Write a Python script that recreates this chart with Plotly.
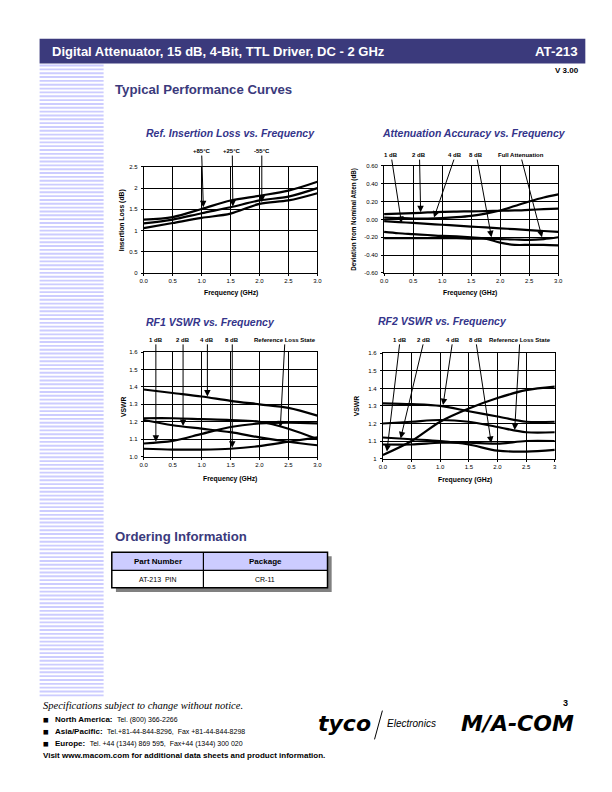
import plotly.graph_objects as go

# page is 612x792; browser body has an 8px margin, so the figure is drawn 8px in
OFF = 8
W, H = 612 - OFF, 792 - OFF
def PX(x): return (x - OFF) / W
def PY(y): return 1 - (y - OFF) / H

SANS = "Liberation Sans, Arial, sans-serif"
SERIF = "Liberation Serif, Times New Roman, serif"
NAVY = "#3b3a7c"
TNAVY = "#34348a"
LAV = "#ccccff"

# ---------------- data ----------------
freq1 = [0.0, 0.5, 1.0, 1.5, 2.0, 2.5, 3.0]
il_p85 = [1.26, 1.32, 1.51, 1.71, 1.82, 1.94, 2.15]
il_p25 = [1.17, 1.26, 1.41, 1.55, 1.71, 1.80, 2.00]
il_m55 = [1.06, 1.18, 1.30, 1.40, 1.63, 1.71, 1.88]
il_labels = ["+85°C", "+25°C", "-55°C"]

freq2 = [0.0, 0.25, 0.5, 0.75, 1.0, 1.25, 1.5, 1.75, 2.0, 2.25, 2.5, 2.75, 3.0]
acc_1db = [-0.02, -0.03, -0.04, -0.05, -0.06, -0.07, -0.08, -0.09, -0.10, -0.11, -0.12, -0.13, -0.14]
acc_2db = [0.06, 0.065, 0.07, 0.078, 0.085, 0.088, 0.09, 0.093, 0.097, 0.10, 0.107, 0.114, 0.12]
acc_4db = [0.02, 0.015, 0.01, 0.01, 0.015, 0.025, 0.04, 0.065, 0.10, 0.15, 0.20, 0.245, 0.28]
acc_8db = [-0.14, -0.155, -0.165, -0.175, -0.185, -0.19, -0.20, -0.215, -0.26, -0.285, -0.285, -0.285, -0.29]
acc_full = [-0.21, -0.21, -0.21, -0.21, -0.21, -0.21, -0.215, -0.215, -0.22, -0.225, -0.23, -0.22, -0.20]
acc_labels = ["1 dB", "2 dB", "4 dB", "8 dB", "Full Attenuation"]

freq3 = [0.0, 0.5, 1.0, 1.5, 2.0, 2.5, 3.0]
rf1_1db = [1.075, 1.09, 1.13, 1.17, 1.19, 1.195, 1.19]
rf1_2db = [1.21, 1.18, 1.16, 1.14, 1.11, 1.085, 1.065]
rf1_4db = [1.385, 1.365, 1.345, 1.32, 1.30, 1.28, 1.235]
rf1_8db = [1.045, 1.04, 1.04, 1.045, 1.06, 1.085, 1.11]
rf1_ref = [1.22, 1.22, 1.215, 1.21, 1.20, 1.16, 1.10]

freq4 = [0.0, 0.5, 1.0, 1.5, 2.0, 2.5, 3.0]
rf2_1db = [1.02, 1.10, 1.21, 1.285, 1.345, 1.39, 1.41]
rf2_2db = [1.12, 1.11, 1.10, 1.08, 1.045, 1.04, 1.05]
rf2_4db = [1.315, 1.31, 1.30, 1.27, 1.24, 1.21, 1.21]
rf2_8db = [1.08, 1.08, 1.09, 1.09, 1.085, 1.10, 1.10]
rf2_ref = [1.20, 1.21, 1.22, 1.21, 1.18, 1.15, 1.15]
vswr_labels = ["1 dB", "2 dB", "4 dB", "8 dB", "Reference Loss State"]

x_ticks = [0, 0.5, 1.0, 1.5, 2.0, 2.5, 3.0]
x_text = ["0.0", "0.5", "1.0", "1.5", "2.0", "2.5", "3.0"]
x_text4 = ["0.0", "0.5", "1.0", "1.5", "2.0", "2.5", "3"]
il_ticks = [0, 0.5, 1, 1.5, 2, 2.5]
il_text = ["0", "0.5", "1", "1.5", "2", "2.5"]
acc_ticks = [-0.6, -0.4, -0.2, 0.0, 0.2, 0.4, 0.6]
acc_text = ["-0.60", "-0.40", "-0.20", "0.00", "0.20", "0.40", "0.60"]
vswr_ticks = [1.0, 1.1, 1.2, 1.3, 1.4, 1.5, 1.6]
vswr_text3 = ["1.0", "1.1", "1.2", "1.3", "1.4", "1.5", "1.6"]
vswr_text4 = ["1", "1.1", "1.2", "1.3", "1.4", "1.5", "1.6"]

# label (text) positions and arrow tips, in data units
il_lab = [(1.0, 2.87), (1.53, 2.87), (2.04, 2.87)]
il_tip = [(1.03, 1.55), (1.54, 1.57), (2.04, 1.67)]
acc_lab = [(0.12, 0.72), (0.61, 0.72), (1.23, 0.72), (1.59, 0.72), (2.35, 0.72)]
acc_tip = [(0.30, -0.04), (0.63, 0.08), (0.86, 0.02), (1.85, -0.20), (2.72, -0.20)]
rf1_lab = [(0.21, 1.67), (0.68, 1.67), (1.10, 1.67), (1.53, 1.67), (2.44, 1.67)]
rf1_tip = [(0.21, 1.085), (0.68, 1.175), (1.10, 1.345), (1.53, 1.05), (2.36, 1.168)]
rf2_lab = [(0.30, 1.677), (0.72, 1.677), (1.22, 1.677), (1.62, 1.677), (2.39, 1.677)]
rf2_tip = [(0.07, 1.04), (0.31, 1.115), (1.05, 1.305), (1.89, 1.089), (2.30, 1.163)]

# ---------------- figure ----------------
fig = go.Figure()

charts = [
    dict(ax="", xs=freq1, series=[il_p85, il_p25, il_m55], dom_x=(141.7, 318), dom_y=(165, 272.3),
         yr=[0, 2.5], yt=il_ticks, ytt=il_text, xtt=x_text, labels=il_labels, lab=il_lab, tip=il_tip),
    dict(ax="2", xs=freq2, series=[acc_1db, acc_2db, acc_4db, acc_8db, acc_full], dom_x=(385.7, 562.5), dom_y=(164, 272),
         yr=[-0.6, 0.6], yt=acc_ticks, ytt=acc_text, xtt=x_text, labels=acc_labels, lab=acc_lab, tip=acc_tip),
    dict(ax="3", xs=freq3, series=[rf1_1db, rf1_2db, rf1_4db, rf1_8db, rf1_ref], dom_x=(141.7, 318), dom_y=(351.7, 457),
         yr=[1.0, 1.6], yt=vswr_ticks, ytt=vswr_text3, xtt=x_text, labels=vswr_labels, lab=rf1_lab, tip=rf1_tip),
    dict(ax="4", xs=freq4, series=[rf2_1db, rf2_2db, rf2_4db, rf2_8db, rf2_ref], dom_x=(384.5, 559), dom_y=(353, 459),
         yr=[1.0, 1.6], yt=vswr_ticks, ytt=vswr_text4, xtt=x_text4, labels=vswr_labels, lab=rf2_lab, tip=rf2_tip),
]

layout = dict(width=W, height=H, margin=dict(l=0, r=0, t=0, b=0),
              paper_bgcolor="white", plot_bgcolor="white", showlegend=False)
annotations = []
shapes = []

for c in charts:
    a = c["ax"]
    xa, ya = "x" + a, "y" + a
    for ys in c["series"]:
        fig.add_trace(go.Scatter(x=c["xs"], y=ys, mode="lines", xaxis=xa, yaxis=ya,
                                 line=dict(color="black", width=2.2, shape="spline", smoothing=0.9),
                                 hoverinfo="skip"))
    common = dict(showgrid=True, gridcolor="black", gridwidth=1, showline=True, linecolor="black",
                  linewidth=1, mirror=True, ticks="outside", ticklen=2, tickcolor="black", zeroline=False,
                  tickfont=dict(size=6, family=SANS, color="black"))
    layout["xaxis" + a] = dict(domain=[PX(c["dom_x"][0]), PX(c["dom_x"][1])], range=[0, 3],
                               tickvals=x_ticks, ticktext=c["xtt"], anchor=ya, **common)
    layout["yaxis" + a] = dict(domain=[PY(c["dom_y"][1]), PY(c["dom_y"][0])], range=c["yr"],
                               tickvals=c["yt"], ticktext=c["ytt"], anchor=xa, ticklabelstandoff=2, **common)
    for lbl, (lx, ly), (tx, ty) in zip(c["labels"], c["lab"], c["tip"]):
        annotations.append(dict(x=tx, y=ty, xref=xa, yref=ya, ax=lx, ay=ly, axref=xa, ayref=ya,
                                text="<b>%s</b>" % lbl, showarrow=True, arrowhead=2, arrowsize=1.3,
                                arrowwidth=1, arrowcolor="black",
                                font=dict(size=6, family=SANS, color="black")))

def text(x, y, s, size, color="black", xanchor="left", bold=False, italic=False, family=SANS, angle=0):
    if bold:
        s = "<b>%s</b>" % s
    if italic:
        s = "<i>%s</i>" % s
    annotations.append(dict(x=PX(x), y=PY(y), xref="paper", yref="paper", text=s, showarrow=False,
                            xanchor=xanchor, yanchor="middle", textangle=angle,
                            font=dict(size=size, color=color, family=family)))

def rect(x0, y0, x1, y1, fill=None, line=None, lw=0, layer="below"):
    shapes.append(dict(type="rect", xref="paper", yref="paper", x0=PX(x0), x1=PX(x1), y0=PY(y1), y1=PY(y0),
                       fillcolor=fill if fill else "rgba(0,0,0,0)",
                       line=dict(color=line if line else "rgba(0,0,0,0)", width=lw), layer=layer))

# header bar
rect(36, 36, 590, 61, fill=NAVY)
text(47, 48.5, "Digital Attenuator, 15 dB, 4-Bit, TTL Driver, DC - 2 GHz", 13, "white", bold=True)
text(585, 48.5, "AT-213", 13.3, "white", xanchor="right", bold=True)
text(586, 68, "V 3.00", 8, "black", xanchor="right", bold=True)
text(111, 87, "Typical Performance Curves", 13.2, NAVY, bold=True)

# side stripes
y0 = 62.0
while y0 < 697:
    rect(36, y0, 101, y0 + 1.9, fill=LAV)
    y0 += 3.87

# chart titles
text(229.5, 131, "Ref. Insertion Loss vs. Frequency", 10.5, TNAVY, xanchor="center", bold=True, italic=True)
text(477, 131, "Attenuation Accuracy vs. Frequency", 10.5, TNAVY, xanchor="center", bold=True, italic=True)
text(141.5, 321.5, "RF1 VSWR vs. Frequency", 10.5, TNAVY, bold=True, italic=True)
text(378, 320.5, "RF2 VSWR vs. Frequency", 10.5, TNAVY, bold=True, italic=True)

# axis titles
text(230, 292, "Frequency (GHz)", 6.8, xanchor="center", bold=True)
text(120, 218.5, "Insertion Loss (dB)", 6.8, xanchor="center", bold=True, angle=-90)
text(473, 292, "Frequency (GHz)", 6.8, xanchor="center", bold=True)
text(355.5, 218, "Deviation from Nominal Atten (dB)", 6.3, xanchor="center", bold=True, angle=-90)
text(229, 479.5, "Frequency (GHz)", 6.8, xanchor="center", bold=True)
text(121.7, 407, "VSWR", 6.8, xanchor="center", bold=True, angle=-90)
text(468, 480.5, "Frequency (GHz)", 6.8, xanchor="center", bold=True)
text(358.5, 406, "VSWR", 6.8, xanchor="center", bold=True, angle=-90)

# ordering information
text(111, 537.5, "Ordering Information", 13.2, NAVY, bold=True)
rect(113.5, 557.5, 332.5, 593.5, fill="#808080")
rect(109.3, 553.3, 328.3, 571.7, fill=LAV)
rect(109.3, 571.7, 328.3, 589.3, fill="white")
rect(109.3, 553.3, 328.3, 589.3, line="black", lw=1.5, layer="above")
shapes.append(dict(type="line", xref="paper", yref="paper", x0=PX(202.3), x1=PX(202.3), y0=PY(553.3), y1=PY(589.3),
                   line=dict(color="black", width=1.2)))
shapes.append(dict(type="line", xref="paper", yref="paper", x0=PX(109.3), x1=PX(328.3), y0=PY(571.7), y1=PY(571.7),
                   line=dict(color="black", width=1.2)))
text(156, 562.5, "Part Number", 8, xanchor="center", bold=True)
text(265, 562.5, "Package", 8, xanchor="center", bold=True)
text(156, 580.5, "AT-213  PIN", 7, xanchor="center")
text(265, 580.5, "CR-11", 7, xanchor="center")

# footer
text(37, 708, "Specifications subject to change without notice.", 10.5, family=SERIF, italic=True)
footer_rows = [("North America:", "Tel. (800) 366-2266", 722),
               ("Asia/Pacific:", "Tel.+81-44-844-8296,  Fax +81-44-844-8298", 734),
               ("Europe:", "Tel. +44 (1344) 869 595,  Fax+44 (1344) 300 020", 746)]
for head, tail, yy in footer_rows:
    text(37, yy, "■", 9.5)
    text(50, yy, "<b>%s</b>  <span style='font-size:7px'>%s</span>" % (head, tail), 8)
text(37, 758.5, "Visit www.macom.com for additional data sheets and product information.", 8, bold=True)

text(317, 726, "tyco", 22, bold=True, italic=True, family="DejaVu Sans, sans-serif")
shapes.append(dict(type="line", xref="paper", yref="paper", x0=PX(384), x1=PX(376), y0=PY(713), y1=PY(742),
                   line=dict(color="black", width=1)))
text(387, 726, "Electronics", 10, italic=True)
text(521, 726, "M/A-COM", 22, xanchor="center", bold=True, italic=True, family="DejaVu Sans, sans-serif")
text(570, 705, "3", 9, xanchor="center", bold=True)

layout["annotations"] = annotations
layout["shapes"] = shapes
fig.update_layout(**layout)
fig.write_html("out.html")
